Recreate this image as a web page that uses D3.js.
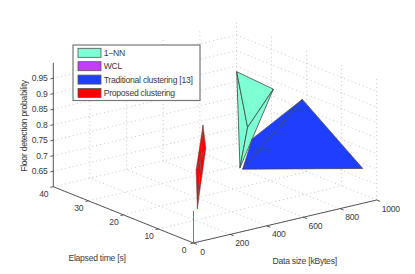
<!DOCTYPE html>
<html>
<head>
<meta charset="utf-8">
<script src="https://cdn.jsdelivr.net/npm/d3@7"></script>
<style>
    html, body { margin: 0; padding: 0; background: #fff; }
    svg { display: block; }
    text { font-family: "Liberation Sans", sans-serif; font-size: 8.6px; letter-spacing: -0.25px; fill: #3a3a3a; }
</style>
</head>
<body>
<div id="graph"></div>
<script>
const sizeTicks = [0, 200, 400, 600, 800, 1000];
const timeTicks = [0, 10, 20, 30, 40];
const probTicks = [0.65, 0.7, 0.75, 0.8, 0.85, 0.9, 0.95];
const legendLabels = ['1\u2212NN', 'WCL', 'Traditional clustering [13]', 'Proposed clustering'];
const legendColors = ['#7fffd4', '#bf3eff', '#1f3fff', '#ff0000'];

// vertices of each surface
const nnSize = [810, 914, 678, 445];
const nnTime = [30, 25, 20, 10];
const nnProb = [0.904, 0.856, 0.788, 0.736];
const nnFaces = [[0, 2, 3], [0, 1, 2], [2, 1, 3]];

const wclSize = [0, 0];
const wclTime = [0, 0];
const wclProb = [0.6, 0.704];

const tradSize = [364, 550, 881, 962];
const tradTime = [5, 12, 15, 2];
const tradProb = [0.765, 0.805, 0.873, 0.698];
const tradFaces = [[0, 1, 2], [0, 2, 3]];

const propSize = [109, 106, 79, 33, 40];
const propTime = [3, 2, 2, 1, 1];
const propProb = [0.952, 0.883, 0.848, 0.826, 0.7];
const propFaces = [[0, 2, 3], [0, 1, 2], [3, 2, 4], [2, 1, 4]];

const w = 415;
const h = 274;

const svg = d3.select('#graph')
    .append('svg')
    .attr('width', w)
    .attr('height', h);

// one scale per screen component, the three axes are added up in project()
const sizeX = d3.scaleLinear().domain([0, 1000]).range([0, 183.2]);
const sizeY = d3.scaleLinear().domain([0, 1000]).range([0, -43]);
const timeX = d3.scaleLinear().domain([0, 40]).range([0, -140.2]);
const timeY = d3.scaleLinear().domain([0, 40]).range([0, -56.3]);
const probY = d3.scaleLinear().domain([0.6, 1]).range([0, -124]);
const originX = 193.5;
const originY = 243;

function project(s, t, p) {
    return [originX + sizeX(s) + timeX(t), originY + sizeY(s) + timeY(t) + probY(p)];
}

const line = d3.line();

function seg(a, b, cls) {
    return svg.append('path').attr('class', cls).attr('d', line([project(...a), project(...b)]));
}

function gridSeg(a, b) {
    seg(a, b, 'grid')
        .attr('fill', 'none')
        .attr('stroke', '#b8b8b8')
        .attr('stroke-width', 0.8)
        .attr('stroke-dasharray', '1,3');
}

// floor and back walls
sizeTicks.forEach(function (s) {
    gridSeg([s, 0, 0.6], [s, 40, 0.6]);
    if (s > 0) gridSeg([s, 40, 0.6], [s, 40, 1]);
});
timeTicks.forEach(function (t) {
    gridSeg([0, t, 0.6], [1000, t, 0.6]);
    if (t < 40) gridSeg([1000, t, 0.6], [1000, t, 1]);
});
probTicks.forEach(function (p) {
    gridSeg([0, 40, p], [1000, 40, p]);
    gridSeg([1000, 40, p], [1000, 0, p]);
});

// axes
function axisSeg(a, b) {
    seg(a, b, 'axis')
        .attr('fill', 'none')
        .attr('stroke', '#444')
        .attr('stroke-width', 0.9);
}
axisSeg([0, 0, 0.6], [1000, 0, 0.6]);
axisSeg([0, 0, 0.6], [0, 40, 0.6]);
axisSeg([0, 40, 0.6], [0, 40, 1]);

sizeTicks.forEach(function (s) {
    axisSeg([s, 0, 0.6], [s, -1, 0.6]);
});
timeTicks.forEach(function (t) {
    axisSeg([0, t, 0.6], [-16, t, 0.6]);
});
probTicks.forEach(function (p) {
    axisSeg([0, 40, p], [-16, 40, p]);
});

svg.selectAll('.sizeLabel')
    .data(sizeTicks)
    .enter()
    .append('text')
    .attr('class', 'sizeLabel')
    .attr('x', (d) => project(d, 0, 0.6)[0] + (d == 1000 ? 14 : 12) - (d == 0 ? 3 : 0))
    .attr('y', (d) => project(d, 0, 0.6)[1] + 11.5)
    .attr('text-anchor', 'middle')
    .text((d) => d);

svg.selectAll('.timeLabel')
    .data(timeTicks)
    .enter()
    .append('text')
    .attr('class', 'timeLabel')
    .attr('x', (d) => project(0, d, 0.6)[0] - 9.5)
    .attr('y', (d) => project(0, d, 0.6)[1] + 10)
    .attr('text-anchor', 'middle')
    .text((d) => d);

svg.selectAll('.probLabel')
    .data(probTicks)
    .enter()
    .append('text')
    .attr('class', 'probLabel')
    .attr('x', 47.5)
    .attr('y', (d) => project(0, 40, d)[1] + 3)
    .attr('text-anchor', 'end')
    .text((d) => d);

svg.append('text')
    .attr('x', 97)
    .attr('y', 260.5)
    .attr('text-anchor', 'middle')
    .text('Elapsed time [s]');

svg.append('text')
    .attr('x', 304.7)
    .attr('y', 263.5)
    .attr('text-anchor', 'middle')
    .text('Data size [kBytes]');

svg.append('text')
    .attr('transform', 'translate(27,126) rotate(-90)')
    .attr('text-anchor', 'middle')
    .text('Floor detection probability');

// surfaces
function drawFaces(sizes, times, probs, faces, color, edge, edgeWidth) {
    svg.append('g')
        .selectAll('path')
        .data(faces)
        .enter()
        .append('path')
        .attr('d', (f) => line(f.map((i) => project(sizes[i], times[i], probs[i]))) + 'Z')
        .attr('fill', color)
        .attr('stroke', edge)
        .attr('stroke-width', edgeWidth)
        .attr('stroke-linejoin', 'round');
}

drawFaces(nnSize, nnTime, nnProb, nnFaces, legendColors[0], '#3a4a48', 0.8);
drawFaces(tradSize, tradTime, tradProb, tradFaces, legendColors[2], '#3a3f55', 0.7);
drawFaces(propSize, propTime, propProb, propFaces, legendColors[3], '#555', 0.45);

svg.append('path')
    .attr('d', line(wclSize.map((s, i) => project(s, wclTime[i], wclProb[i]))))
    .attr('fill', 'none')
    .attr('stroke', legendColors[1])
    .attr('stroke-width', 1);

// legend
const legend = svg.append('g');

legend.append('rect')
    .attr('x', 73)
    .attr('y', 45)
    .attr('width', 127)
    .attr('height', 55.5)
    .attr('fill', '#fff')
    .attr('stroke', '#777')
    .attr('stroke-width', 1.2);

const legendRow = d3.scaleLinear().domain([0, 3]).range([52.8, 93]);

legend.selectAll('rect.swatch')
    .data(legendLabels)
    .enter()
    .append('rect')
    .attr('class', 'swatch')
    .attr('x', 78)
    .attr('y', (d, i) => legendRow(i) - 4.5)
    .attr('width', 23)
    .attr('height', 9)
    .attr('fill', (d, i) => legendColors[i])
    .attr('stroke', '#555')
    .attr('stroke-width', 0.8);

legend.selectAll('text')
    .data(legendLabels)
    .enter()
    .append('text')
    .attr('x', 103.7)
    .attr('y', (d, i) => legendRow(i) + 3)
    .text((d) => d);
</script>
</body>
</html>
